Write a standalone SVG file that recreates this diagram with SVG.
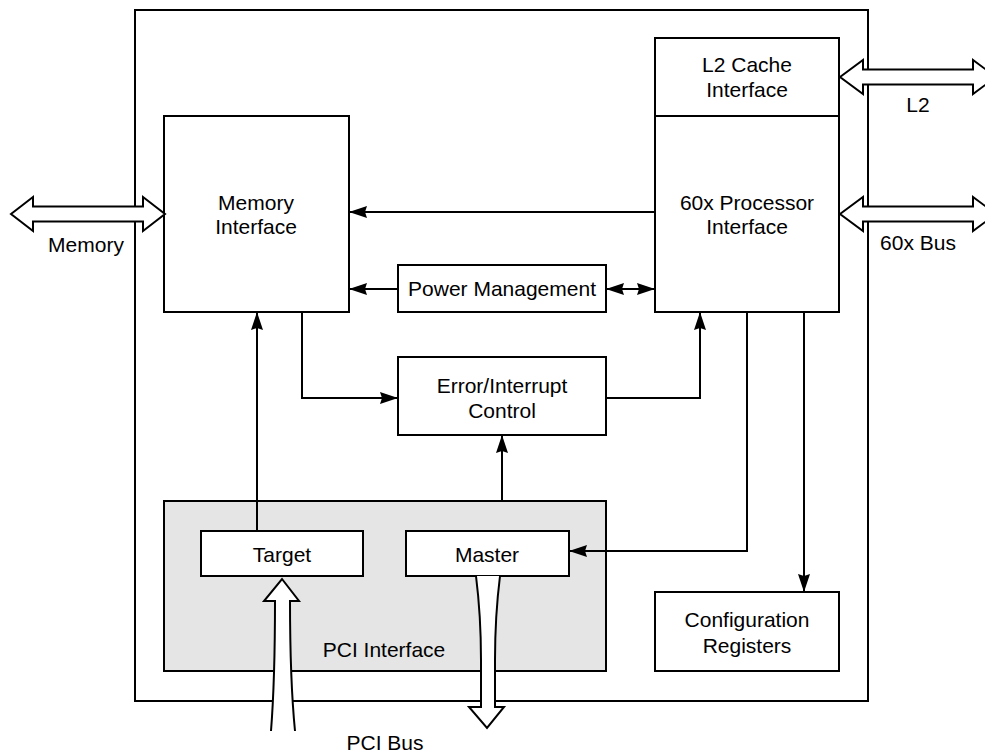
<svg xmlns="http://www.w3.org/2000/svg" width="985" height="754" viewBox="0 0 985 754">
<style>
.box{fill:#fff;stroke:#000;stroke-width:2}
.pci{fill:#e5e5e5;stroke:#000;stroke-width:2}
.wire{fill:none;stroke:#000;stroke-width:2}
.bus{fill:#fff;stroke:#000;stroke-width:2;stroke-linejoin:miter}
text{font-family:"Liberation Sans",Arial,sans-serif;font-size:21px;fill:#000;text-anchor:middle}
</style>
<defs>
<marker id="ah" markerUnits="userSpaceOnUse" markerWidth="18" markerHeight="12" refX="18" refY="6" orient="auto-start-reverse">
<path d="M0,0 L18,6 L0,12 L2,6 Z" fill="#000"/>
</marker>
</defs>
<rect width="985" height="754" fill="#fff"/>
<g id="chip"><rect class="box" x="135" y="10" width="733" height="691"/></g>
<g id="pci-interface">
<rect class="pci" x="164" y="501" width="442" height="170"/>
<text x="384" y="657">PCI Interface</text>
</g>
<g id="memory-interface">
<rect class="box" x="164" y="116" width="185" height="196"/>
<text x="256" y="210">Memory</text>
<text x="256" y="234">Interface</text>
</g>
<g id="l2-cache-interface">
<rect class="box" x="655" y="38" width="184" height="78"/>
<text x="747" y="72">L2 Cache</text>
<text x="747" y="97">Interface</text>
</g>
<g id="processor-interface">
<rect class="box" x="655" y="116" width="184" height="196"/>
<text x="747" y="210">60x Processor</text>
<text x="747" y="234">Interface</text>
</g>
<g id="power-management">
<rect class="box" x="398" y="265" width="208" height="47"/>
<text x="502" y="296">Power Management</text>
</g>
<g id="error-interrupt">
<rect class="box" x="398" y="357" width="208" height="78"/>
<text x="502" y="393">Error/Interrupt</text>
<text x="502" y="418">Control</text>
</g>
<g id="target">
<rect class="box" x="201" y="531" width="162" height="45"/>
<text x="282" y="562">Target</text>
</g>
<g id="master">
<rect class="box" x="406" y="531" width="163" height="45"/>
<text x="487" y="562">Master</text>
</g>
<g id="configuration-registers">
<rect class="box" x="655" y="592" width="184" height="79"/>
<text x="747" y="627">Configuration</text>
<text x="747" y="653">Registers</text>
</g>
<g id="connectors">
<path class="wire" d="M655,212 H349" marker-end="url(#ah)"/>
<path class="wire" d="M398,289 H349" marker-end="url(#ah)"/>
<path class="wire" d="M606,289 H655" marker-start="url(#ah)" marker-end="url(#ah)"/>
<path class="wire" d="M302,312 V398 H398" marker-end="url(#ah)"/>
<path class="wire" d="M606,398 H700 V312" marker-end="url(#ah)"/>
<path class="wire" d="M502,501 V435" marker-end="url(#ah)"/>
<path class="wire" d="M257,531 V312" marker-end="url(#ah)"/>
<path class="wire" d="M747,312 V551 H569" marker-end="url(#ah)"/>
<path class="wire" d="M804,312 V592" marker-end="url(#ah)"/>
<path class="bus" d="M840,77 L863,60 L863,69.5 L973,69.5 L973,60 L996,77 L973,94 L973,84.5 L863,84.5 L863,94 Z"/>
<path class="bus" d="M840,214 L863,197 L863,206.5 L973,206.5 L973,197 L996,214 L973,231 L973,221.5 L863,221.5 L863,231 Z"/>
<path class="bus" d="M11,214 L33,197 L33,206.5 L143,206.5 L143,197 L165,214 L143,231 L143,221.5 L33,221.5 L33,231 Z"/>
<path class="bus" d="M271,731 Q275,680 275,601 L264,601 L282,579 L299,601 L290,601 Q290,680 295,731"/>
<path class="bus" d="M476,576 C479,600 481,625 481,660 L481,707 L469,707 L487,728 L504,707 L495,707 L495,660 C495,625 497,600 500,576"/>
</g>
<g id="labels">
<text x="918" y="112">L2</text>
<text x="918" y="250">60x Bus</text>
<text x="86" y="252">Memory</text>
<text x="385" y="750">PCI Bus</text>
</g>
</svg>
